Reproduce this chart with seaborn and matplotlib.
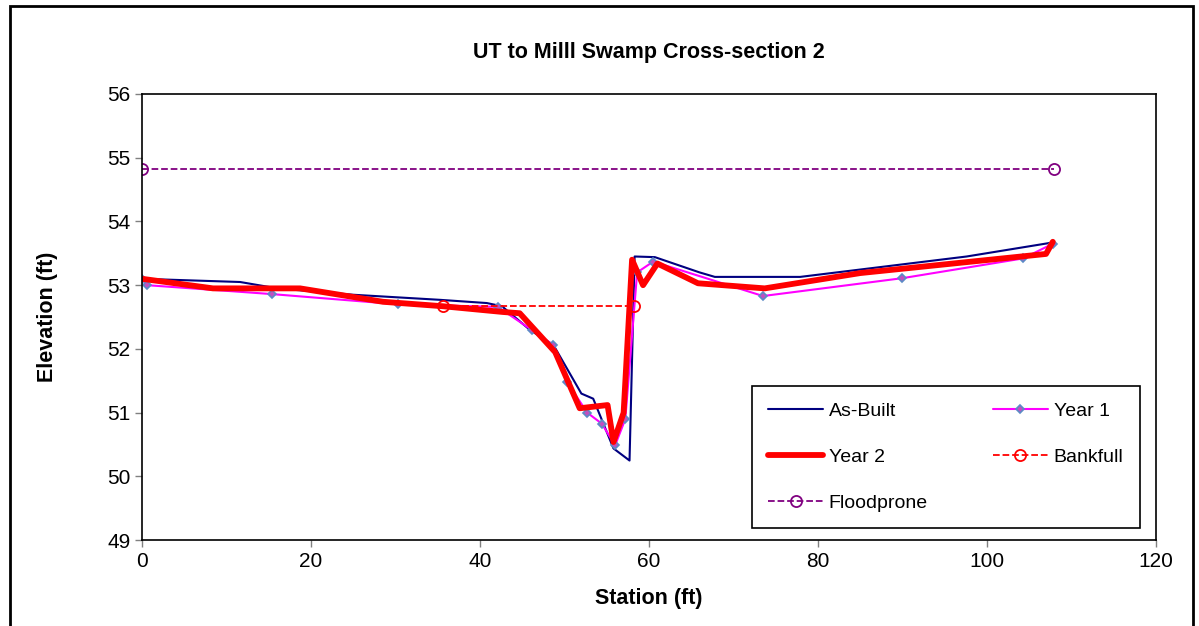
import matplotlib
matplotlib.use("Agg")
import matplotlib.pyplot as plt
import matplotlib.patches as mpatches
import seaborn as sns

# cross-section survey data, station (ft) / elevation (ft)
asbuilt_x = [0, 11.6, 16, 25, 35.3, 40.8, 42.6, 45.9, 48.7, 52.0, 53.4, 55.8, 57.7, 58.3, 60.7, 66, 67.8, 77.9, 97.6, 107.8]
asbuilt_y = [53.1, 53.05, 52.95, 52.85, 52.77, 52.72, 52.67, 52.3, 52.06, 51.3, 51.22, 50.44, 50.25, 53.45, 53.44, 53.2, 53.13, 53.13, 53.45, 53.67]

year1_x = [0, 0.6, 15.4, 30.3, 42.1, 46.1, 48.7, 50.3, 52.7, 54.4, 56.0, 57.2, 58.6, 60.5, 73.5, 90, 104.3, 107.8]
year1_y = [53.1, 53.0, 52.86, 52.7, 52.66, 52.3, 52.06, 51.48, 51.0, 50.83, 50.49, 50.9, 53.2, 53.37, 52.83, 53.11, 53.42, 53.65]

year2_x = [0, 8.4, 18.7, 28.5, 35.6, 42.7, 44.7, 48.9, 51.8, 55.1, 55.8, 57.0, 58.0, 59.3, 61.0, 65.8, 73.7, 85, 107, 107.8]
year2_y = [53.1, 52.95, 52.95, 52.74, 52.67, 52.58, 52.56, 51.95, 51.07, 51.12, 50.54, 51.0, 53.4, 53.0, 53.34, 53.03, 52.95, 53.19, 53.49, 53.68]

bankfull_x = [35.6, 58.2]
bankfull_y = [52.67, 52.67]

floodprone_x = [0, 108]
floodprone_y = [54.83, 54.83]

sns.set_style("ticks")
plt.rcParams['font.family'] = ['Liberation Sans', 'DejaVu Sans']
plt.rcParams['text.color'] = 'black'
plt.rcParams['axes.labelcolor'] = 'black'
plt.rcParams['xtick.color'] = 'black'
plt.rcParams['ytick.color'] = 'black'

fig, ax = plt.subplots(figsize=(11.99, 6.26), dpi=100)
fig.subplots_adjust(left=0.1185, right=0.964, top=0.85, bottom=0.137)

sns.lineplot(x=asbuilt_x, y=asbuilt_y, ax=ax, sort=False, estimator=None,
             color='#000080', linewidth=1.5, label='As-Built')
sns.lineplot(x=year1_x, y=year1_y, ax=ax, sort=False, estimator=None,
             color='#ff00ff', linewidth=1.5, marker='D', markersize=3.8,
             markerfacecolor='#c050c0', markeredgecolor='#5b8bc6', markeredgewidth=1.2,
             label='Year 1')
sns.lineplot(x=year2_x, y=year2_y, ax=ax, sort=False, estimator=None,
             color='#ff0000', linewidth=4.2, label='Year 2')
sns.lineplot(x=bankfull_x, y=bankfull_y, ax=ax, sort=False, estimator=None,
             color='#ff0000', linewidth=1.3, linestyle='--', marker='o', markersize=8,
             markerfacecolor='none', markeredgecolor='#ff0000', markeredgewidth=1.3,
             label='Bankfull')
sns.lineplot(x=floodprone_x, y=floodprone_y, ax=ax, sort=False, estimator=None,
             color='#800080', linewidth=1.3, linestyle='--', marker='o', markersize=8,
             markerfacecolor='none', markeredgecolor='#800080', markeredgewidth=1.3,
             label='Floodprone')

ax.set_xlim(0, 120)
ax.set_ylim(49, 56)
ax.set_xticks(range(0, 121, 20))
ax.set_yticks(range(49, 57))
ax.tick_params(labelsize=15, length=5, width=1)
ax.tick_params(color='#808080')
for s in ax.spines.values():
    s.set_color('black')
    s.set_linewidth(1.2)

ax.set_title('UT to Milll Swamp Cross-section 2', fontsize=15.5, fontweight='bold', pad=26)
ax.set_xlabel('Station (ft)', fontsize=15.5, fontweight='bold', labelpad=12)
ax.set_ylabel('Elevation (ft)', fontsize=15.5, fontweight='bold', labelpad=35)

# row-major legend order: As-Built, Year 1 / Year 2, Bankfull / Floodprone
h, l = ax.get_legend_handles_labels()
order = [0, 2, 4, 1, 3]
leg = ax.legend([h[i] for i in order], [l[i] for i in order],
                loc='lower left', bbox_to_anchor=(0.6016, 0.027, 0.3826, 0.3), mode='expand',
                borderaxespad=0, ncol=2, fontsize=14,
                frameon=True, fancybox=False, edgecolor='black', framealpha=1,
                handlelength=2.8, columnspacing=1.5, labelspacing=1.45,
                borderpad=0.85, handletextpad=0.3)
leg.get_frame().set_linewidth(1.2)

fig.patches.append(mpatches.Rectangle((0.008, -0.01), 0.987, 1.0, transform=fig.transFigure,
                                      fill=False, edgecolor='black', linewidth=2))

plt.savefig('out.png', dpi=100)
